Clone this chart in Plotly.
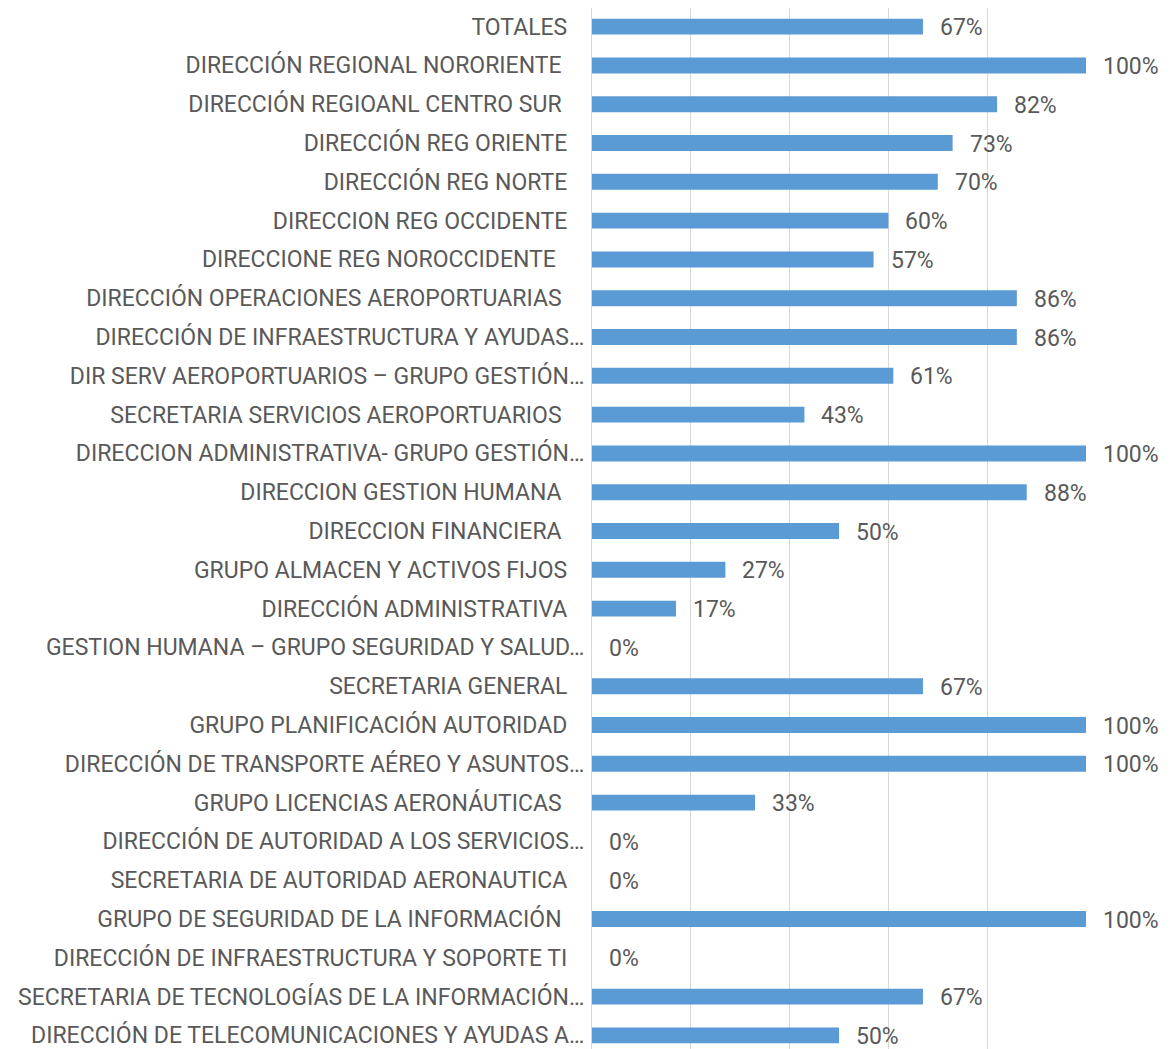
import plotly.graph_objects as go

categories = [
    "TOTALES",
    "DIRECCIÓN REGIONAL NORORIENTE\u00a0",
    "DIRECCIÓN REGIOANL CENTRO SUR\u00a0",
    "DIRECCIÓN REG ORIENTE",
    "DIRECCIÓN REG NORTE",
    "DIRECCION REG OCCIDENTE",
    "DIRECCIONE REG NOROCCIDENTE\u00a0\u00a0",
    "DIRECCIÓN OPERACIONES AEROPORTUARIAS\u00a0",
    "DIRECCIÓN DE INFRAESTRUCTURA Y AYUDAS…",
    "DIR SERV AEROPORTUARIOS – GRUPO GESTIÓN…",
    "SECRETARIA SERVICIOS AEROPORTUARIOS\u00a0",
    "DIRECCION ADMINISTRATIVA- GRUPO GESTIÓN…",
    "DIRECCION GESTION HUMANA\u00a0",
    "DIRECCION FINANCIERA\u00a0",
    "GRUPO ALMACEN Y ACTIVOS FIJOS",
    "DIRECCIÓN ADMINISTRATIVA",
    "GESTION HUMANA – GRUPO SEGURIDAD Y SALUD…",
    "SECRETARIA GENERAL",
    "GRUPO PLANIFICACIÓN AUTORIDAD",
    "DIRECCIÓN DE TRANSPORTE AÉREO Y ASUNTOS…",
    "GRUPO LICENCIAS AERONÁUTICAS\u00a0",
    "DIRECCIÓN DE AUTORIDAD A LOS SERVICIOS…",
    "SECRETARIA DE AUTORIDAD AERONAUTICA",
    "GRUPO DE SEGURIDAD DE LA INFORMACIÓN\u00a0",
    "DIRECCIÓN DE INFRAESTRUCTURA Y SOPORTE TI",
    "SECRETARIA DE TECNOLOGÍAS DE LA INFORMACIÓN…",
    "DIRECCIÓN DE TELECOMUNICACIONES Y AYUDAS A…",
]

values = [
    0.67, 1.00, 0.82, 0.73, 0.70, 0.60, 0.57, 0.86, 0.86, 0.61,
    0.43, 1.00, 0.88, 0.50, 0.27, 0.17, 0.00, 0.67, 1.00, 1.00,
    0.33, 0.00, 0.00, 1.00, 0.00, 0.67, 0.50,
]

x_ticks = [0, 0.2, 0.4, 0.6, 0.8, 1.0]

BAR = "#5B9BD5"
TXT = "#595959"
FONT = "Roboto"
FS = 23

# pad normal labels so they end left of the ellipsis labels (Excel style)
ticktext = [c if c.endswith("…") else c + "\u00a0\u00a0\u00a0" for c in categories]

fig = go.Figure()
fig.add_trace(go.Bar(
    y=categories,
    x=values,
    orientation="h",
    marker=dict(color=BAR, line=dict(width=0)),
    width=0.41,
    hoverinfo="x+y",
))

for c, v in zip(categories, values):
    fig.add_annotation(
        x=v, y=c, text=f"{v:.0%}", showarrow=False,
        xanchor="left", yanchor="middle", xshift=15, yshift=-1,
        font=dict(family=FONT, size=FS, color=TXT),
    )

# page body has an 8px margin; compensate so the plot lands where the reference has it
fig.update_layout(
    width=1164, height=1041,
    margin=dict(l=584, r=86, t=0, b=0),
    paper_bgcolor="white", plot_bgcolor="white",
    showlegend=False,
    font=dict(family=FONT, size=FS, color=TXT),
)
fig.update_xaxes(
    range=[0, 1], tickvals=x_ticks, showticklabels=False,
    showgrid=True, gridcolor="#D9D9D9", gridwidth=1,
    zeroline=False, showline=False, fixedrange=True,
)
fig.update_yaxes(
    categoryorder="array", categoryarray=categories,
    tickvals=categories, ticktext=ticktext,
    range=[26.35, -0.48],
    showgrid=False, zeroline=False,
    showline=True, linecolor="#D9D9D9", linewidth=1,
    ticks="", ticklabelstandoff=2,
    tickfont=dict(family=FONT, size=FS, color=TXT),
)

fig.write_html("out.html")
